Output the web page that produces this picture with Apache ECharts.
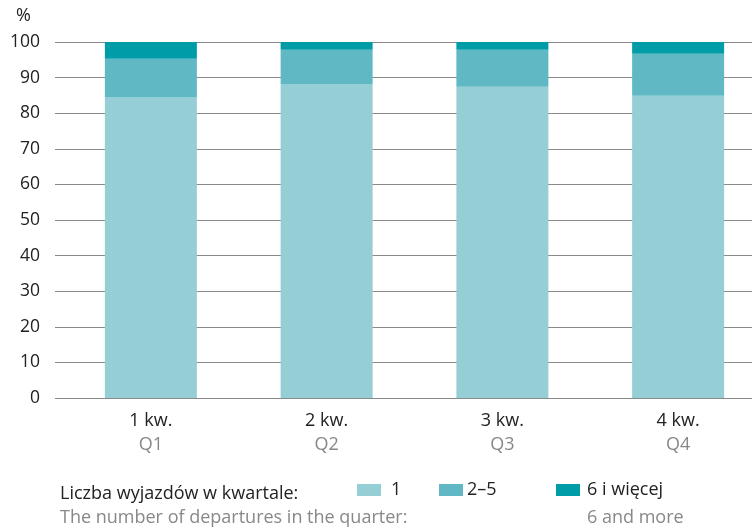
<!DOCTYPE html>
<html><head><meta charset="utf-8">
<script src="https://cdn.jsdelivr.net/npm/echarts@6/dist/echarts.min.js"></script>
<style>html,body{margin:0;padding:0;background:#fff;overflow:hidden}#c{width:772px;height:527px}</style>
</head><body><div id="c"></div>
<script>
const categoriesPL = ['1 kw.', '2 kw.', '3 kw.', '4 kw.'];
const categoriesEN = ['Q1', 'Q2', 'Q3', 'Q4'];
const seriesNames = ['1', '2–5', '6 i więcej'];
const values1 = [84.4, 88.2, 87.4, 84.9];
const values2_5 = [10.9, 9.6, 10.4, 11.8];
const values6plus = [4.7, 2.2, 2.2, 3.3];
const yTicks = [0, 10, 20, 30, 40, 50, 60, 70, 80, 90, 100];

const colors = ['#96ced6', '#5fb8c4', '#009ca8'];
const F = 'Open Sans';
const chart = echarts.init(document.getElementById('c'), null, {renderer: 'canvas'});
const gTop = 42, gBottom = 129;
const tStyle = (c) => ({fontFamily: F, fontSize: 18, fontWeight: 'normal', color: c});
chart.setOption({
  animation: false,
  textStyle: {fontFamily: F},
  title: [
    {text: '%', left: 11, top: 2, textStyle: {fontFamily: F, fontSize: 18, fontWeight: 'normal', color: '#222'}},
    {text: 'Liczba wyjazdów w kwartale:', left: 55, top: 480, textStyle: tStyle('#222')},
    {text: 'The number of departures in the quarter:', left: 55, top: 504, textStyle: tStyle('#888')},
    {text: '6 and more', left: 582, top: 504, textStyle: tStyle('#888')}
  ],
  legend: [
    {data: [seriesNames[0]], left: 357, top: 481, padding: 0, itemWidth: 24, itemHeight: 12, itemGap: 0, icon: 'rect',
      textStyle: {fontFamily: F, fontSize: 18, color: '#222', padding: [0, 0, 0, 5]}},
    {data: [seriesNames[1]], left: 439, top: 481, padding: 0, itemWidth: 24, itemHeight: 12, itemGap: 0, icon: 'rect',
      textStyle: {fontFamily: F, fontSize: 18, color: '#222', padding: [0, 0, 0, -1]}},
    {data: [seriesNames[2]], left: 556, top: 481, padding: 0, itemWidth: 24, itemHeight: 12, itemGap: 0, icon: 'rect',
      textStyle: {fontFamily: F, fontSize: 18, color: '#222', padding: [0, 0, 0, 2]}}
  ],
  grid: [
    {left: 55, right: 0, top: gTop, bottom: gBottom},
    {left: 63, width: 703, top: gTop, bottom: gBottom}
  ],
  xAxis: [
    {type: 'category', gridIndex: 0, data: categoriesPL, show: false},
    {type: 'category', gridIndex: 1, data: categoriesPL.map((c, i) => c + '\n' + categoriesEN[i]),
      axisLine: {show: false}, axisTick: {show: false},
      axisLabel: {margin: 11, formatter: v => { const p = v.split('\n'); return '{a|' + p[0] + '}\n{b|' + p[1] + '}'; },
        rich: {a: {fontFamily: F, fontSize: 18, color: '#222', lineHeight: 24}, b: {fontFamily: F, fontSize: 18, color: '#888', lineHeight: 24}}}}
  ],
  yAxis: [
    {type: 'value', gridIndex: 0, min: yTicks[0], max: yTicks[yTicks.length - 1], interval: 10,
      axisLine: {show: false}, axisTick: {show: false},
      axisLabel: {margin: 15, fontFamily: F, fontSize: 17.5, color: '#222'},
      splitLine: {lineStyle: {color: '#8a8a8a', width: 1.2}}},
    {type: 'value', gridIndex: 1, min: 0, max: 100, show: false}
  ],
  series: [
    {name: seriesNames[0], type: 'bar', stack: 's', xAxisIndex: 1, yAxisIndex: 1, data: values1, barWidth: 92, itemStyle: {color: colors[0]}},
    {name: seriesNames[1], type: 'bar', stack: 's', xAxisIndex: 1, yAxisIndex: 1, data: values2_5, barWidth: 92, itemStyle: {color: colors[1]}},
    {name: seriesNames[2], type: 'bar', stack: 's', xAxisIndex: 1, yAxisIndex: 1, data: values6plus, barWidth: 92, itemStyle: {color: colors[2]}}
  ]
});
</script></body></html>
